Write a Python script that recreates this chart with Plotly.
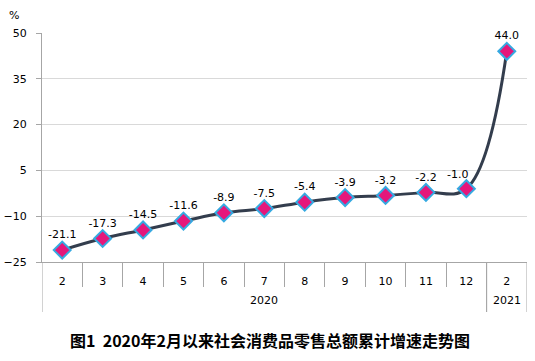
import plotly.graph_objects as go

months = ["2", "3", "4", "5", "6", "7", "8", "9", "10", "11", "12", "2"]
years = ["2020"] * 11 + ["2021"]
values = [-21.1, -17.3, -14.5, -11.6, -8.9, -7.5, -5.4, -3.9, -3.2, -2.2, -1.0, 44.0]
labels = [f"{v:.1f}" for v in values]
y_ticks = [-25, -10, 5, 20, 35, 50]
title_text = "图1  2020年2月以来社会消费品零售总额累计增速走势图"

L, R, T, B = 42, 8, 33, 99
W, H = 535, 361
plot_w = W - L - R
plot_h = H - T - B
n = len(months)
xs = list(range(n))
axis_col = "#A6A6A6"
label_font = dict(family="DejaVu Sans", size=11, color="#000000")

# the label of the point before the jump sits a little to the left
shifted = 10
trace_text = [t if i != shifted else "" for i, t in enumerate(labels)]

fig = go.Figure()
fig.add_trace(go.Scatter(
    x=xs, y=values,
    mode="lines+markers+text",
    line=dict(color="#333D4D", width=3, shape="spline", smoothing=1.1),
    marker=dict(symbol="diamond", size=13, color="#E5177B",
                line=dict(color="#35A9E1", width=2)),
    text=trace_text, textposition="top center",
    textfont=label_font,
    cliponaxis=False,
))

# group (year) boundaries and centers
groups = []
for i, yv in enumerate(years):
    if not groups or groups[-1][0] != yv:
        groups.append([yv, i, i])
    else:
        groups[-1][2] = i

shapes = []
annotations = []
bound_y = -(312 - (H - B)) / plot_h
for yv, a, b in groups:
    for xb in (a - 0.5, b + 0.5):
        shapes.append(dict(type="line", xref="x", yref="paper", x0=xb, x1=xb,
                           y0=0, y1=bound_y, line=dict(color=axis_col, width=1)))
    annotations.append(dict(text=yv, xref="x", yref="paper", x=(a + b) / 2,
                            y=-(300 - (H - B)) / plot_h, showarrow=False,
                            xanchor="center", yanchor="middle", font=label_font))

annotations.append(dict(text=labels[shifted], x=xs[shifted], y=values[shifted],
                        xref="x", yref="y", showarrow=False,
                        xanchor="center", yanchor="bottom",
                        xshift=-9, yshift=6, font=label_font))

fig.update_layout(
    width=W, height=H,
    margin=dict(l=L, r=R, t=T, b=B, autoexpand=False),
    paper_bgcolor="white", plot_bgcolor="white",
    showlegend=False,
    font=dict(family="DejaVu Sans", size=11, color="#000000"),
    xaxis=dict(
        range=[-0.5, n - 0.5], automargin=False,
        tickvals=xs, ticktext=months,
        showline=True, linecolor=axis_col, linewidth=1,
        ticks="", ticklabelstandoff=9,
        minor=dict(tickmode="array", tickvals=[i + 0.5 for i in range(n - 1)],
                   ticks="outside", ticklen=24, tickcolor=axis_col, showgrid=False),
        showgrid=False, zeroline=False,
        tickfont=label_font,
    ),
    yaxis=dict(
        range=[-25, 50], tickvals=y_ticks, automargin=False,
        showline=True, linecolor=axis_col, linewidth=1,
        ticks="outside", ticklen=5, tickcolor=axis_col,
        ticklabelstandoff=7,
        gridcolor="#D9D9D9", gridwidth=1,
        zeroline=False,
        tickfont=label_font,
    ),
    shapes=shapes,
    annotations=annotations + [
        dict(text="%", x=(14 - L) / plot_w, y=(H - B - 16) / plot_h,
             xref="paper", yref="paper", showarrow=False,
             xanchor="center", yanchor="middle",
             font=dict(size=11, family="DejaVu Sans")),
        dict(text=f"<b>{title_text}</b>", xref="paper", yref="paper",
             x=(270 - L) / plot_w, y=(H - B - 340) / plot_h,
             showarrow=False, xanchor="center", yanchor="middle",
             font=dict(family="Noto Sans CJK SC", size=16, color="#000000")),
    ],
)

fig.write_html("out.html", config={"displayModeBar": False},
               post_script="document.body.style.margin='0';document.body.style.overflow='hidden';")
